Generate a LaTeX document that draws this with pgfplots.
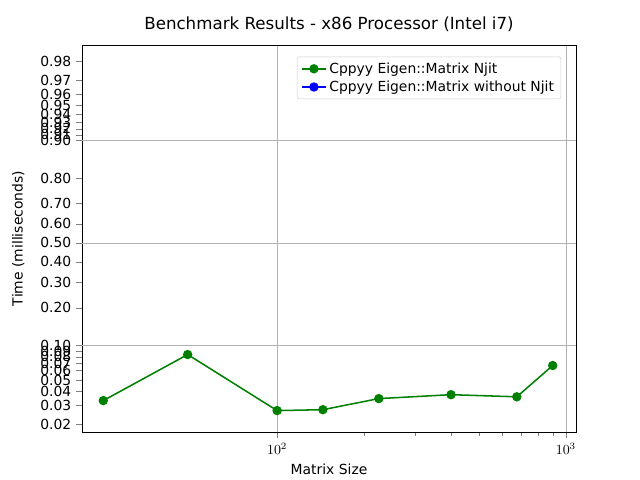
\documentclass[border=0pt]{standalone}
\usepackage{pgfplots}
\pgfplotsset{compat=1.18}
\usepackage{fontspec}
\setmainfont{DejaVu Sans}
\begin{document}
\begin{tikzpicture}
\path[use as bounding box] (-59.04pt,-34.56pt) rectangle (401.76pt,311.04pt);
\begin{axis}[
  scale only axis, width=355.7pt, height=278.6pt,
  xmode=log, xmin=21.1, xmax=1084,
  y coord trafo/.code={\pgfmathparse{log10(#1/(1-#1))}},
  y coord inv trafo/.code={\pgfmathparse{1/(1+10^(-#1))}},
  ymin=0.0169, ymax=0.9857,
  ytick={0.02,0.03,0.04,0.05,0.06,0.07,0.08,0.09,0.10,0.20,0.30,0.40,0.50,0.60,0.70,0.80,0.90,0.91,0.92,0.93,0.94,0.95,0.96,0.97,0.98},
  yticklabels={0.02,0.03,0.04,0.05,0.06,0.07,0.08,0.09,0.10,0.20,0.30,0.40,0.50,0.60,0.70,0.80,0.90,0.91,0.92,0.93,0.94,0.95,0.96,0.97,0.98},
  extra y ticks={0.1,0.5,0.9}, extra y tick labels={},
  extra y tick style={grid=major, major grid style={gray!60}},
  xmajorgrids, major grid style={gray!60},
  xtick={100,1000}, xticklabels={$10^2$,$10^3$},
  tick align=outside, tick pos=left,
  ticklabel style={font=\fontsize{10}{12}\selectfont},
  /pgf/number format/assume math mode=true,
  title={Benchmark Results - x86 Processor (Intel i7)},
  title style={font=\fontsize{12}{14}\selectfont},
  xlabel={Matrix Size}, ylabel={Time (milliseconds)},
  ylabel style={yshift=-4pt},
  label style={font=\fontsize{10}{12}\selectfont},
  legend pos=north east,
  legend style={font=\fontsize{10}{12}\selectfont, draw=gray!40, rounded corners=1pt},
  legend cell align=left,
]
\addplot[color=green!50!black, line width=1.1pt, mark=*, mark size=2.8pt] coordinates {
(25,0.0331)(49,0.084)(100,0.0269)(144,0.0274)(225,0.0345)(400,0.0374)(676,0.0358)(900,0.0676)};
\addlegendentry{Cppyy Eigen::Matrix Njit}
\addlegendimage{color=blue, line width=1.1pt, mark=*, mark size=2.8pt}
\addlegendentry{Cppyy Eigen::Matrix without Njit}
\end{axis}
\end{tikzpicture}
\end{document}
